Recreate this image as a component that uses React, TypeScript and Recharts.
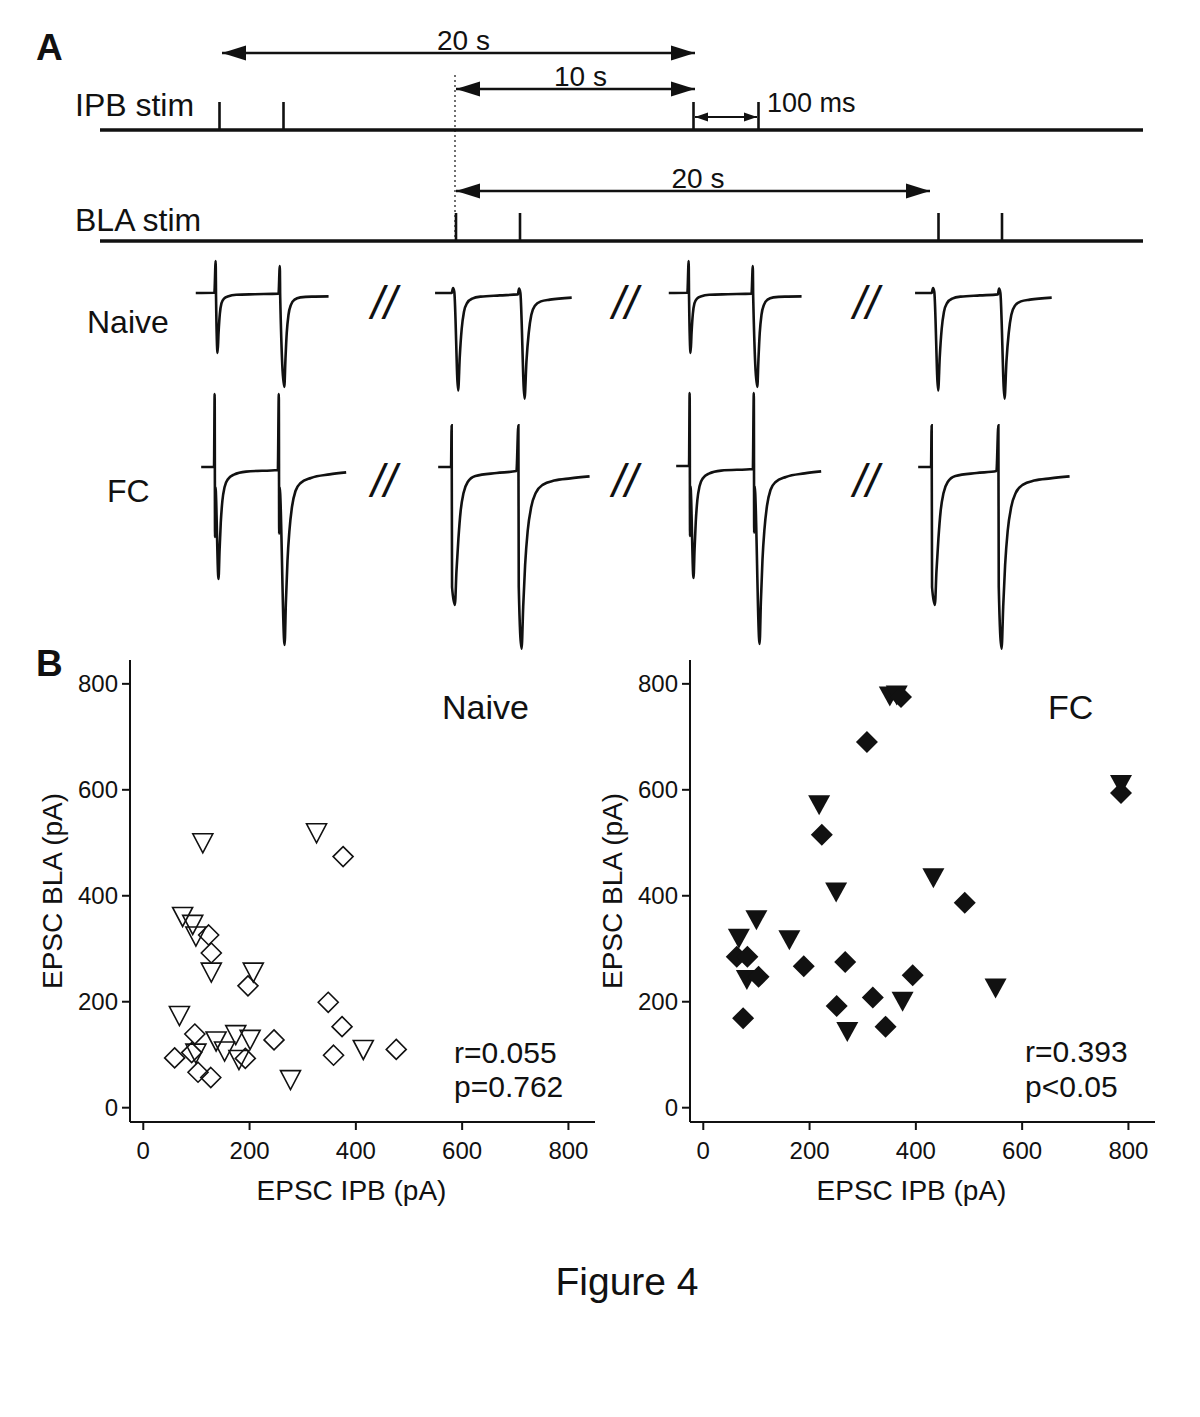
import React from 'react';
import {
  ComposedChart,
  LineChart,
  Line,
  ScatterChart,
  Scatter,
  XAxis,
  YAxis,
  ReferenceLine,
  Label
} from 'recharts';

const FONT = '"Liberation Sans", Arial, Helvetica, sans-serif';
const INK = '#111';

// ---------- Panel A: stimulation protocol (schematic time line units) ----------
const TIMELINE = [100, 1143];
const IPB_STIMS = [219.5, 283.5, 693.5, 758.5];
const BLA_STIMS = [456, 520, 938.5, 1002];
const STIM_ROWS = [
  { name: 'IPB stim', stims: IPB_STIMS, level: 130 },
  { name: 'BLA stim', stims: BLA_STIMS, level: 241 }
];
const ALIGN_MARK = 455;
const INTERVALS = [
  { label: '20 s', from: 222, to: 695, level: 53, small: false },
  { label: '10 s', from: 456, to: 695, level: 89, small: false },
  { label: '100 ms', from: 695, to: 757, level: 117, small: true },
  { label: '20 s', from: 456, to: 930, level: 191, small: false }
];

// ---------- Panel A: example EPSC traces, [time ms, current pA] ----------
const NAIVE_IPB: [number, number][] = [
  [-31, 0], [-2, 1], [0, 160], [0.6, -20], [3, -300], [4.5, -200], [6.5, -105], [9, -52],
  [13, -28], [20, -16], [32, -9], [61, -6], [98, -3], [100, 135], [100.6, -20], [107, -470],
  [108.8, -330], [110.8, -200], [113.5, -110], [117.5, -58], [123, -33], [132, -22],
  [150, -18], [176, -17]
];
const NAIVE_BLA: [number, number][] = [
  [-29, 0], [-3, 0], [-1, 25], [1, 5], [7, -487], [9.5, -320], [12.5, -180], [16, -95],
  [21, -50], [29, -28], [42, -18], [72, -12], [100, -7], [102, 22], [104, 0], [110.5, -528],
  [113.5, -340], [117, -200], [121, -110], [127, -62], [136, -42], [150, -33], [184, -23]
];
const FC_IPB: [number, number][] = [
  [-21, 0], [-1, 0], [0, 365], [0.6, -350], [1.2, -100], [6, -560], [7.6, -420],
  [9.5, -280], [12, -170], [15.5, -100], [21, -60], [30, -38], [49, -23], [98.5, -15],
  [100, 365], [100.6, -333], [101.2, -100], [109, -890], [111, -680], [113.5, -470],
  [116.5, -320], [120.5, -200], [126, -120], [134, -80], [150, -55], [179, -37], [205, -27]
];
const FC_BLA: [number, number][] = [
  [-21, 0], [-1, 0], [0, 208], [0.6, -600], [5, -690], [7.5, -520], [10.5, -360],
  [14, -220], [18.5, -130], [25, -75], [37, -45], [70, -30], [101, -20], [104, 208],
  [104.6, -600], [109, -908], [111.5, -700], [114.5, -490], [118.5, -320], [124, -200],
  [131, -130], [142.5, -88], [160, -68], [185, -57], [215, -47]
];

// ---------- Panel B: EPSC amplitudes (pA), [IPB, BLA] ----------
const NAIVE_TRIANGLES = [
  [112, 499], [326, 518], [74, 360], [93, 345], [99, 323], [128, 255], [207, 255],
  [68, 173], [137, 125], [174, 137], [201, 128], [153, 106], [180, 90], [99, 102],
  [414, 109], [277, 52]
];
const NAIVE_DIAMONDS = [
  [376, 474], [123, 326], [128, 292], [197, 230], [348, 199], [374, 153], [97, 139],
  [246, 128], [91, 104], [59, 94], [192, 93], [358, 99], [476, 110], [103, 67], [127, 57]
];
const FC_TRIANGLES = [
  [351, 776], [364, 778], [218, 571], [433, 433], [250, 406], [100, 354], [67, 319],
  [162, 316], [82, 241], [375, 200], [271, 143], [550, 225], [786, 609]
];
const FC_DIAMONDS = [
  [372, 775], [308, 690], [223, 515], [492, 387], [63, 285], [83, 285], [189, 267],
  [267, 275], [104, 247], [394, 250], [251, 192], [319, 208], [343, 153], [75, 169],
  [786, 594]
];
const AXIS_TICKS = [0, 200, 400, 600, 800];

const toPoints = (pairs: number[][]) => pairs.map(([x, y]) => ({ x, y }));

// text whose cap-height centre sits at y
const Txt = ({ x, y, size, children, anchor = 'start', bold = false, italic = false }: any) => (
  <div style={{
    position: 'absolute',
    left: x,
    top: y - 0.488 * size,
    fontSize: size,
    lineHeight: 1,
    fontWeight: bold ? 700 : 400,
    fontStyle: italic ? 'italic' : 'normal',
    whiteSpace: 'nowrap',
    transform: anchor === 'middle' ? 'translateX(-50%)' : 'none'
  }}>
    {children}
  </div>
);

const ArrowHead = (props: any) => {
  const { cx, cy, payload } = props;
  const len = payload.small ? 13 : 24;
  const half = payload.small ? 4.5 : 7.5;
  const back = cx - payload.dir * len;
  return <polygon points={`${cx},${cy} ${back},${cy - half} ${back},${cy + half}`} fill={INK} />;
};

const arrowHeads = INTERVALS.flatMap(iv => [
  { x: iv.from, y: iv.level, dir: -1, small: iv.small },
  { x: iv.to, y: iv.level, dir: 1, small: iv.small }
]);

const Protocol = () => (
  <div style={{ position: 'absolute', left: 0, top: 0 }}>
    <ComposedChart width={1200} height={250} margin={{ top: 0, right: 0, bottom: 0, left: 0 }}>
      <XAxis type="number" dataKey="x" domain={[0, 1200]} hide />
      <YAxis type="number" dataKey="y" domain={[0, 250]} reversed hide />
      {STIM_ROWS.map(row => (
        <ReferenceLine
          key={row.name}
          segment={[{ x: TIMELINE[0], y: row.level }, { x: TIMELINE[1], y: row.level }]}
          stroke={INK}
          strokeWidth={3.4}
        />
      ))}
      {STIM_ROWS.flatMap(row => row.stims.map(s => (
        <ReferenceLine
          key={`${row.name}-${s}`}
          segment={[{ x: s, y: row.level }, { x: s, y: row.level - 28 }]}
          stroke={INK}
          strokeWidth={2.6}
        />
      )))}
      <ReferenceLine
        segment={[{ x: ALIGN_MARK, y: 75 }, { x: ALIGN_MARK, y: 241 }]}
        stroke={INK}
        strokeWidth={1.2}
        strokeDasharray="2 3"
      />
      {INTERVALS.map((iv, i) => (
        <ReferenceLine
          key={`iv-${i}`}
          segment={[{ x: iv.from, y: iv.level }, { x: iv.to, y: iv.level }]}
          stroke={INK}
          strokeWidth={iv.small ? 2 : 2.6}
        />
      ))}
      <Scatter data={arrowHeads} shape={ArrowHead} isAnimationActive={false} />
    </ComposedChart>
  </div>
);

// trace window: -40..225 ms over 170 px, -1000..400 pA over 280 px
const T_DOMAIN = [-40, 225];
const I_DOMAIN = [-1000, 400];
const TRACE_W = 170;
const TRACE_H = 280;

const TRACE_LAYOUT = [
  { shape: NAIVE_IPB, stimX: 216, baseY: 292.7 },
  { shape: NAIVE_BLA, stimX: 453.3, baseY: 292.7 },
  { shape: NAIVE_IPB, stimX: 688.3, baseY: 292.7 },
  { shape: NAIVE_BLA, stimX: 933.3, baseY: 292.7 },
  { shape: FC_IPB, stimX: 215, baseY: 466.7 },
  { shape: FC_BLA, stimX: 451.7, baseY: 466.7 },
  { shape: FC_IPB, stimX: 689.3, baseY: 466 },
  { shape: FC_BLA, stimX: 931.7, baseY: 466.7 }
];

const Trace = ({ shape, stimX, baseY }: any) => {
  const left = stimX - ((0 - T_DOMAIN[0]) / (T_DOMAIN[1] - T_DOMAIN[0])) * TRACE_W;
  const top = baseY - (I_DOMAIN[1] / (I_DOMAIN[1] - I_DOMAIN[0])) * TRACE_H;
  const data = shape.map(([t, i]: number[]) => ({ t, i }));
  return (
    <div style={{ position: 'absolute', left, top }}>
      <LineChart width={TRACE_W} height={TRACE_H} data={data} margin={{ top: 0, right: 0, bottom: 0, left: 0 }}>
        <XAxis type="number" dataKey="t" domain={T_DOMAIN} hide />
        <YAxis type="number" domain={I_DOMAIN} hide />
        <Line
          type="monotone"
          dataKey="i"
          stroke={INK}
          strokeWidth={2.6}
          dot={false}
          isAnimationActive={false}
        />
      </LineChart>
    </div>
  );
};

const OpenTriangle = ({ cx, cy }: any) => (
  <polygon
    points={`${cx - 10},${cy - 9.5} ${cx + 10},${cy - 9.5} ${cx},${cy + 9.5}`}
    fill="none" stroke={INK} strokeWidth={1.6}
  />
);
const OpenDiamond = ({ cx, cy }: any) => (
  <polygon
    points={`${cx},${cy - 10} ${cx + 10},${cy} ${cx},${cy + 10} ${cx - 10},${cy}`}
    fill="none" stroke={INK} strokeWidth={1.6}
  />
);
const FilledTriangle = ({ cx, cy }: any) => (
  <polygon points={`${cx - 11},${cy - 10} ${cx + 11},${cy - 10} ${cx},${cy + 10}`} fill={INK} />
);
const FilledDiamond = ({ cx, cy }: any) => (
  <polygon points={`${cx},${cy - 11} ${cx + 11},${cy} ${cx},${cy + 11} ${cx - 11},${cy}`} fill={INK} />
);

const xTitle = (props: any) => {
  const { x, y, width } = props.viewBox;
  return (
    <text x={x + width / 2 - 11} y={y + 78} textAnchor="middle" fontSize={28} fill={INK}>
      EPSC IPB (pA)
    </text>
  );
};
const yTitle = (props: any) => {
  const { x, y, width, height } = props.viewBox;
  const cx = x + width - 78;
  const cy = y + height / 2;
  return (
    <text transform={`translate(${cx},${cy}) rotate(-90)`} dy="0.36em" textAnchor="middle" fontSize={28} fill={INK}>
      EPSC BLA (pA)
    </text>
  );
};

const ScatterPanel = ({ left, triangles, diamonds, filled }: any) => (
  <div style={{ position: 'absolute', left, top: 600 }}>
    <ScatterChart width={600} height={640} margin={{ top: 60, right: 5, bottom: 18, left: 20 }}>
      <XAxis
        type="number"
        dataKey="x"
        domain={[-25, 850]}
        ticks={AXIS_TICKS}
        height={100}
        tickSize={8}
        tickMargin={12}
        axisLine={{ stroke: INK, strokeWidth: 2 }}
        tickLine={{ stroke: INK, strokeWidth: 2 }}
        tick={{ fontSize: 24, fill: INK }}
        allowDataOverflow
      >
        <Label content={xTitle} />
      </XAxis>
      <YAxis
        type="number"
        dataKey="y"
        domain={[-27, 845]}
        ticks={AXIS_TICKS}
        width={110}
        tickSize={8}
        tickMargin={4}
        axisLine={{ stroke: INK, strokeWidth: 2 }}
        tickLine={{ stroke: INK, strokeWidth: 2 }}
        tick={{ fontSize: 24, fill: INK }}
        allowDataOverflow
      >
        <Label content={yTitle} />
      </YAxis>
      <Scatter
        data={toPoints(triangles)}
        shape={filled ? FilledTriangle : OpenTriangle}
        isAnimationActive={false}
      />
      <Scatter
        data={toPoints(diamonds)}
        shape={filled ? FilledDiamond : OpenDiamond}
        isAnimationActive={false}
      />
    </ScatterChart>
  </div>
);

const BREAK_X = [384, 625, 866];
const BREAK_Y = [302, 480];

export default function App() {
  return (
    <div style={{
      position: 'absolute',
      left: 0,
      top: 0,
      width: 1200,
      height: 1417,
      background: '#fff',
      color: INK,
      fontFamily: FONT,
      overflow: 'hidden'
    }}>
      <Protocol />
      {TRACE_LAYOUT.map((tr, i) => <Trace key={i} {...tr} />)}

      <Txt x={36} y={47} size={37} bold>A</Txt>
      <Txt x={75} y={105} size={32}>IPB stim</Txt>
      <Txt x={75} y={220} size={32}>BLA stim</Txt>
      <Txt x={87} y={322} size={32}>Naive</Txt>
      <Txt x={107} y={491} size={32}>FC</Txt>
      {INTERVALS.map((iv, i) => iv.small
        ? <Txt key={i} x={iv.to + 10} y={iv.level - 14} size={27}>{iv.label}</Txt>
        : <Txt key={i} x={(iv.from + iv.to) / 2 + 5} y={iv.level - 12} size={28} anchor="middle">{iv.label}</Txt>
      )}
      {BREAK_Y.flatMap(y => BREAK_X.map(x => (
        <Txt key={`${x}-${y}`} x={x} y={y} size={46} anchor="middle" italic>//</Txt>
      )))}

      <ScatterPanel left={0} triangles={NAIVE_TRIANGLES} diamonds={NAIVE_DIAMONDS} filled={false} />
      <ScatterPanel left={560} triangles={FC_TRIANGLES} diamonds={FC_DIAMONDS} filled />

      <Txt x={36} y={663} size={37} bold>B</Txt>
      <Txt x={442} y={707} size={34}>Naive</Txt>
      <Txt x={454} y={1053} size={30}>r=0.055</Txt>
      <Txt x={454} y={1087} size={30}>p=0.762</Txt>
      <Txt x={1048} y={707} size={34}>FC</Txt>
      <Txt x={1025} y={1052} size={30}>r=0.393</Txt>
      <Txt x={1025} y={1087} size={30}>p&lt;0.05</Txt>

      <Txt x={627} y={1281} size={39} anchor="middle">Figure 4</Txt>
    </div>
  );
}
